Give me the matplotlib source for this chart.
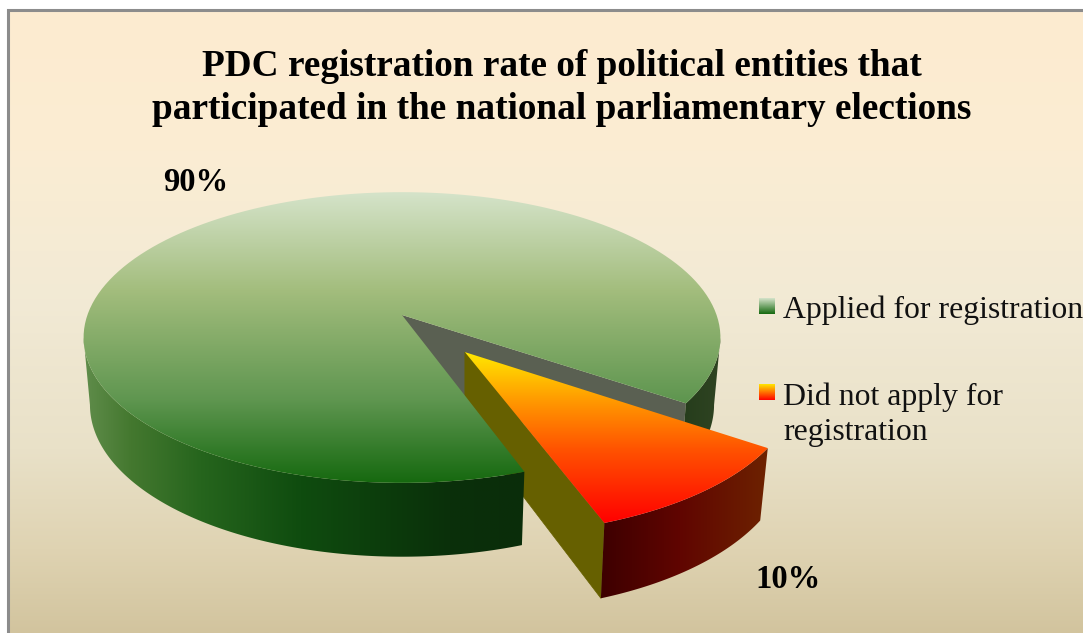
import numpy as np
import matplotlib
matplotlib.use('Agg')
import matplotlib.pyplot as plt
from matplotlib.colors import LinearSegmentedColormap
from matplotlib.patches import Polygon

plt.rcParams['font.family'] = ['Liberation Serif', 'DejaVu Serif']

title_text = 'PDC registration rate of political entities that\nparticipated in the national parliamentary elections'
categories = ['Applied for registration', 'Did not apply for\nregistration']
shares = [90, 10]
share_labels = ['90%', '10%']

W, H = 1083, 633

# perspective of the pie plane: unit circle -> screen pixels
CX, SX = 402, 321
YA, YB, YC = -95, 315, 0.158
RIM = 0.98
START = -34.6  # angle where the small slice begins, degrees
EXPLODE = 0.31

fig = plt.figure(figsize=(W / 100, H / 100), dpi=100, facecolor='white')
ax = fig.add_axes([0, 0, 1, 1])
ax.axis('off')


def project(u, v):
    den = 1 + YC * v
    return CX + SX * u / den, (YA * v + YB) / den


def gradient(stops, box, clip=None, vertical=True, zorder=1):
    # stops are (pixel position, colour) along the gradient direction
    x0, x1, y0, y1 = box
    lo, hi = (y0, y1) if vertical else (x0, x1)
    cmap = LinearSegmentedColormap.from_list(
        '', [((p - stops[0][0]) / (stops[-1][0] - stops[0][0]), c) for p, c in stops], N=512)
    pos = np.linspace(lo, hi, 512)
    vals = np.clip((pos - stops[0][0]) / (stops[-1][0] - stops[0][0]), 0, 1)
    arr = vals[:, None] if vertical else vals[None, :]
    im = ax.imshow(arr, cmap=cmap, vmin=0, vmax=1, extent=(x0, x1, y1, y0), origin='upper',
                   aspect='auto', interpolation='bilinear', zorder=zorder)
    if clip is not None:
        patch = Polygon(clip, closed=True, fc='none', ec='none', transform=ax.transData)
        ax.add_patch(patch)
        im.set_clip_path(patch)
    return im


def arc(a0, a1, du=0.0, dv=0.0, n=160):
    t = np.radians(np.linspace(a0, a1, n))
    u = du + RIM * np.cos(t)
    v = dv + RIM * np.sin(t)
    return u, v


def top_points(u, v):
    x, y = project(u, v)
    return np.column_stack([x, y])


def bottom_points(u, v, ref_x, squeeze=0.98):
    x, y = project(u, v)
    return np.column_stack([ref_x + squeeze * (x - ref_x), y + 66 - 8 * np.asarray(v)])


# background and frame
gradient([(12, '#fdebd0'), (150, '#fbedd3'), (300, '#f2ead5'), (450, '#e9e1c8'),
          (550, '#dfd3b2'), (633, '#d2c49e')], (9, W, 11, H), zorder=0)
ax.plot([8, 8, W], [H, 10, 10], color='#8c8c8c', lw=2.2, solid_joinstyle='miter', zorder=0.5)

small_sweep = 360 * shares[1] / sum(shares)
end_small = START - small_sweep
mid = np.radians(START - small_sweep / 2)
du, dv = EXPLODE * np.cos(mid), EXPLODE * np.sin(mid)

# wall colours run left to right, top faces run top to bottom
green_top = [(190, '#d6e4cb'), (290, '#a3bd7d'), (400, '#5f9650'), (485, '#14680e')]
green_wall = [(85, '#5f8c4a'), (130, '#44782f'), (200, '#26651d'), (300, '#0f4c0f'), (450, '#0a300a'),
              (523, '#0b2d0a'), (685, '#263d1c'), (722, '#2f4422')]
red_top = [(352, '#ffe800'), (400, '#ff9a00'), (450, '#ff5200'), (523, '#ff0000')]
red_wall = [(600, '#3d0000'), (680, '#600500'), (767, '#6d2200')]

# big slice
u_big, v_big = arc(START, START + 360 * shares[0] / sum(shares))
apex_u, apex_v = np.array([0.0]), np.array([0.0])

# cut face seen through the gap
u_cut = np.array([0.0, u_big[0]])
v_cut = np.array([0.0, v_big[0]])
cut_top = top_points(u_cut, v_cut)
cut_bot = bottom_points(u_cut, v_cut, CX)
ax.add_patch(Polygon(np.vstack([cut_top, cut_bot[::-1]]), fc='#5a6052', ec='none', zorder=2))

# left side wall of the small slice, partly hidden by the big slice
u_s, v_s = arc(START, end_small, du, dv)
u_side = np.array([du, u_s[-1]])
v_side = np.array([dv, v_s[-1]])
apex_x = project(du, dv)[0]
side_top = top_points(u_side, v_side)
side_bot = bottom_points(u_side, v_side, apex_x, 0.975)
ax.add_patch(Polygon(np.vstack([side_top, side_bot[::-1]]), fc='#666000', ec='#666000', lw=0.5, zorder=3))

# outer walls of the big slice: right of the gap and along the front,
# each stopping where the rim turns away at the widest point
for a0, a1 in [(START, -9), (360 + end_small, 189)]:
    u_w, v_w = arc(a0, a1)
    wall = np.vstack([top_points(u_w, v_w), bottom_points(u_w, v_w, CX)[::-1]])
    gradient(green_wall, (80, 725, 300, 570), clip=wall, vertical=False, zorder=4)

# top of the big slice
big_face = np.vstack([top_points(apex_u, apex_v), top_points(u_big, v_big)])
gradient(green_top, (80, 725, 185, 490), clip=big_face, zorder=5)

# small slice, front wall then top
s_top = top_points(u_s, v_s)
s_bot = bottom_points(u_s, v_s, apex_x, 0.975)
gradient(red_wall, (590, 775, 440, 605), clip=np.vstack([s_top, s_bot[::-1]]), vertical=False, zorder=6)
s_face = np.vstack([top_points(np.array([du]), np.array([dv])), s_top])
gradient(red_top, (460, 775, 350, 530), clip=s_face, zorder=7)

# title, value labels
ax.text(562, 119, title_text, ha='center', va='baseline', fontsize=26.8, fontweight='bold',
        color='black', linespacing=1.31, zorder=10)
ax.text(195.5, 191, share_labels[0], ha='center', va='baseline', fontsize=23.5, fontweight='bold', zorder=10)
ax.text(788, 588, share_labels[1], ha='center', va='baseline', fontsize=23.5, fontweight='bold', zorder=10)

# legend
ax.text(783, 318, categories[0], ha='left', va='baseline', fontsize=22.9, color='#111111', zorder=10)
ax.text(783, 440, categories[1], ha='left', va='baseline', fontsize=22.9, color='#111111',
        linespacing=1.25, zorder=10)
gradient([(298, '#d6e4cb'), (314, '#14680e')], (759, 775, 298, 314), zorder=8)
gradient([(384, '#ffe800'), (400, '#ff0000')], (759, 775, 384, 400), zorder=8)

ax.set_xlim(0, W)
ax.set_ylim(H, 0)
fig.savefig('out.png', dpi=100, facecolor='white')
